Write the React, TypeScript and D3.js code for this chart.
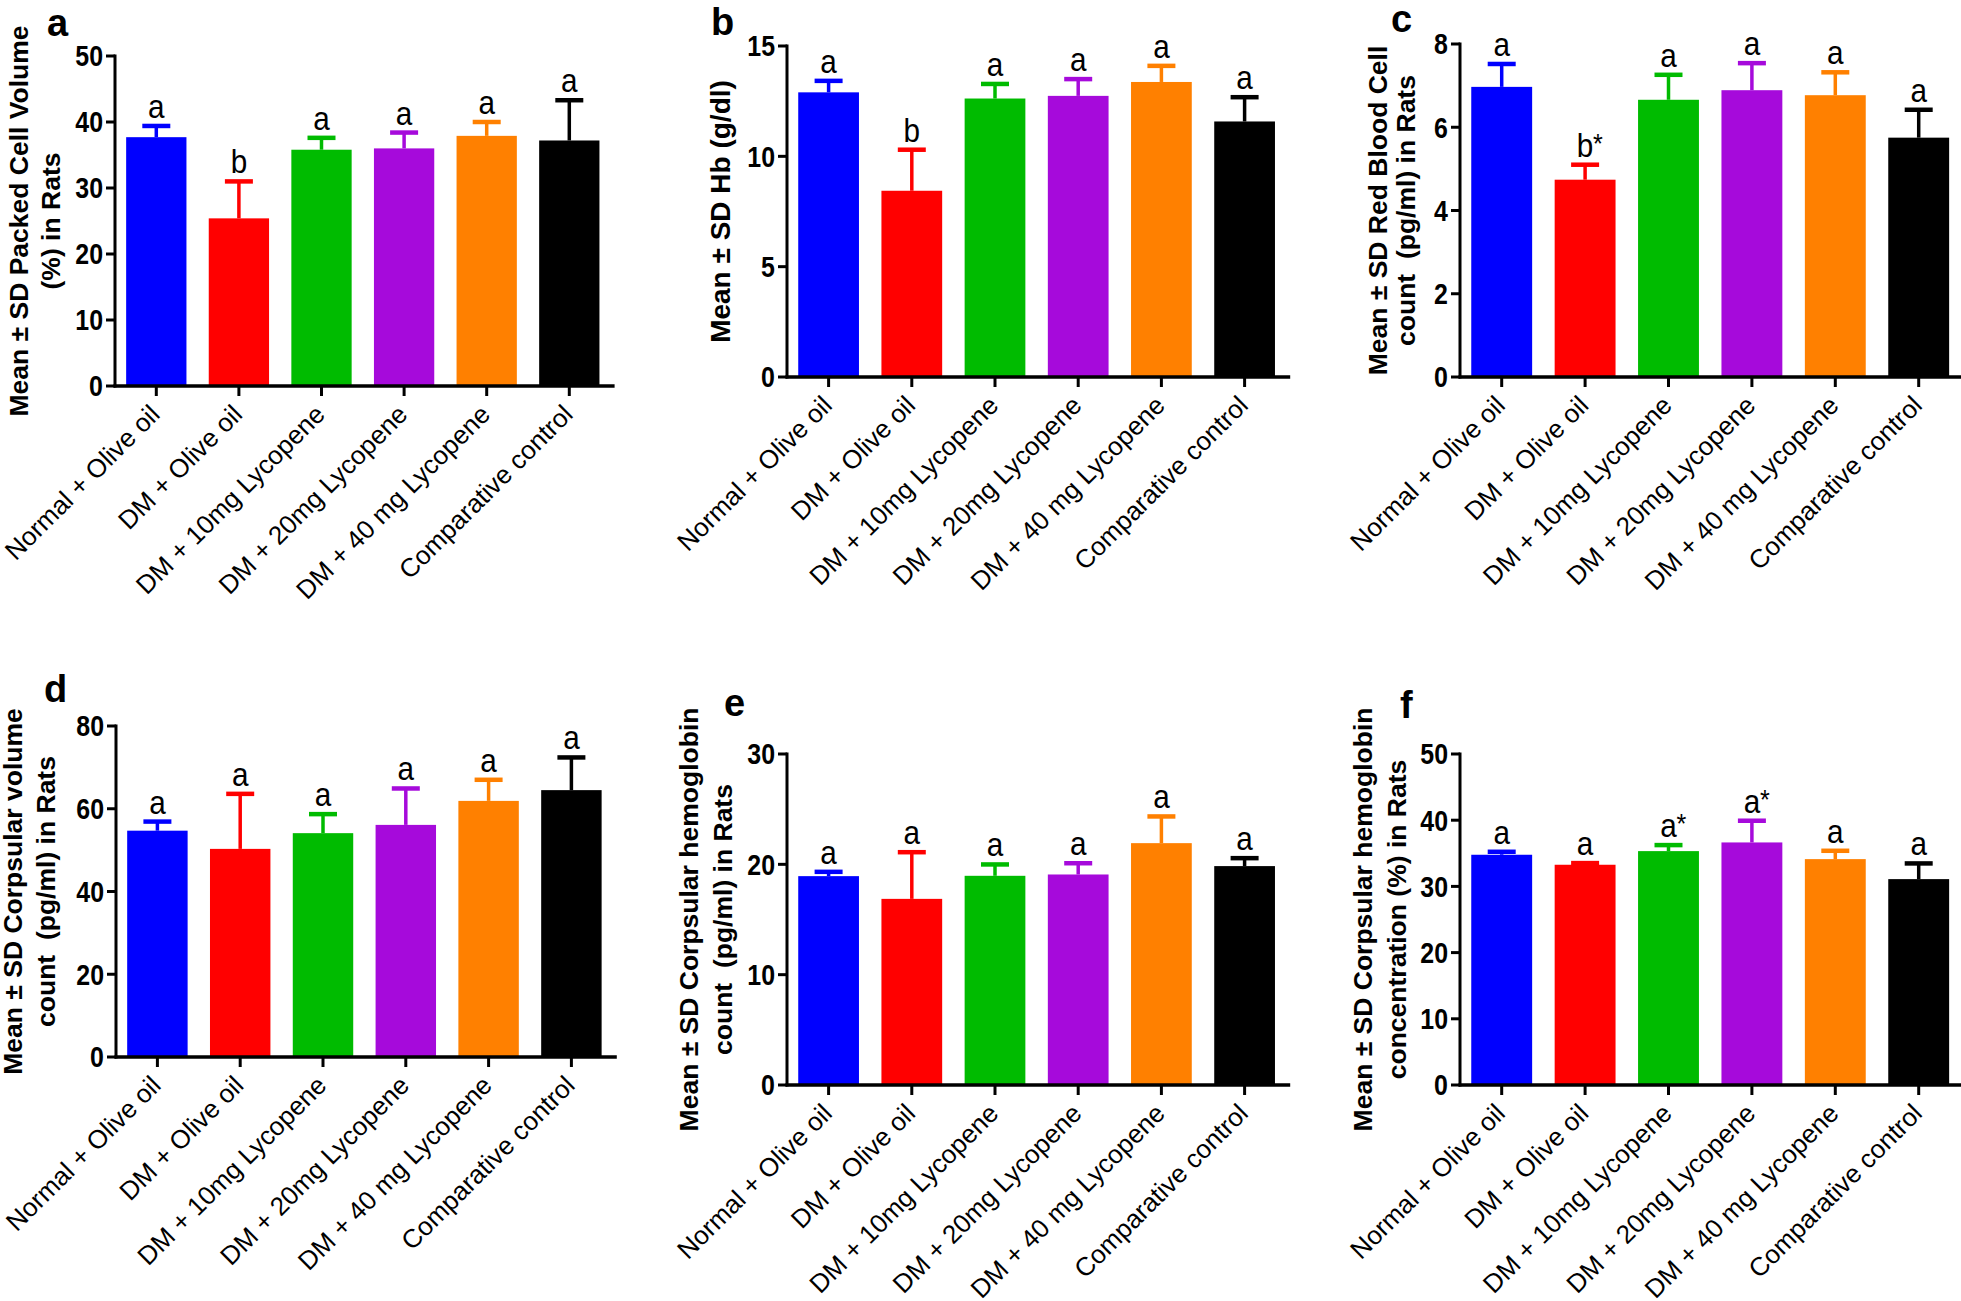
import React from "react";
import * as d3 from "d3";

// ---------- data ----------
const categories = [
  "Normal + Olive oil",
  "DM + Olive oil",
  "DM + 10mg Lycopene",
  "DM + 20mg Lycopene",
  "DM + 40 mg Lycopene",
  "Comparative control",
];

const pcvMean = [37.7, 25.4, 35.8, 36.0, 37.9, 37.2];
const pcvSD = [1.7, 5.6, 1.8, 2.4, 2.1, 6.1];
const pcvLetters = ["a", "b", "a", "a", "a", "a"];
const pcvTicks = [0, 10, 20, 30, 40, 50];

const hbMean = [12.9, 8.44, 12.62, 12.74, 13.37, 11.58];
const hbSD = [0.52, 1.86, 0.66, 0.76, 0.73, 1.1];
const hbLetters = ["a", "b", "a", "a", "a", "a"];
const hbTicks = [0, 5, 10, 15];

const rbcMean = [6.97, 4.74, 6.66, 6.89, 6.77, 5.75];
const rbcSD = [0.55, 0.36, 0.6, 0.65, 0.55, 0.67];
const rbcLetters = ["a", "b*", "a", "a", "a", "a"];
const rbcTicks = [0, 2, 4, 6, 8];

const mcvMean = [54.7, 50.3, 54.1, 56.1, 61.9, 64.5];
const mcvSD = [2.2, 13.3, 4.6, 8.8, 5.1, 7.9];
const mcvLetters = ["a", "a", "a", "a", "a", "a"];
const mcvTicks = [0, 20, 40, 60, 80];

const mchMean = [18.93, 16.87, 18.96, 19.08, 21.92, 19.84];
const mchSD = [0.39, 4.23, 1.03, 1.02, 2.42, 0.72];
const mchLetters = ["a", "a", "a", "a", "a", "a"];
const mchTicks = [0, 10, 20, 30];

const mchcMean = [34.78, 33.27, 35.33, 36.64, 34.12, 31.1];
const mchcSD = [0.45, 0.25, 0.91, 3.28, 1.26, 2.37];
const mchcLetters = ["a", "a", "a*", "a*", "a", "a"];
const mchcTicks = [0, 10, 20, 30, 40, 50];

const pcvTitle = ["Mean ± SD Packed Cell Volume", "(%) in Rats"];
const hbTitle = ["Mean ± SD Hb (g/dl)"];
const rbcTitle = ["Mean ± SD Red Blood Cell", "count  (pg/ml) in Rats"];
const mcvTitle = ["Mean ± SD Corpsular volume", "count  (pg/ml) in Rats"];
const mchTitle = ["Mean ± SD Corpsular hemoglobin", "count  (pg/ml) in Rats"];
const mchcTitle = ["Mean ± SD Corpsular hemoglobin", "concentration (%) in Rats"];

const panelLetters = ["a", "b", "c", "d", "e", "f"];

// ---------- styles / layout ----------
const barColors = ["#0000ff", "#ff0000", "#00bb00", "#a60adb", "#ff8000", "#000000"];
const FONT = "'Liberation Sans', Arial, Helvetica, sans-serif";

type Layout = {
  axisX: number;
  step: number;
  y0: number;
  yTop: number;
  titleX: number[];
  titleSize: number;
  letterX: number;
  letterY: number;
};

const layouts: Layout[] = [
  { axisX: 115, step: 82.6, y0: 386, yTop: 56, titleX: [28, 60], titleSize: 26.5, letterX: 47, letterY: 36 },
  { axisX: 787, step: 83.2, y0: 377, yTop: 46, titleX: [730], titleSize: 28, letterX: 711, letterY: 35 },
  { axisX: 1460, step: 83.4, y0: 377, yTop: 44, titleX: [1387, 1415], titleSize: 26.5, letterX: 1391, letterY: 32 },
  { axisX: 116, step: 82.8, y0: 1057, yTop: 726, titleX: [22, 55], titleSize: 26.5, letterX: 44, letterY: 702 },
  { axisX: 787, step: 83.2, y0: 1085, yTop: 754, titleX: [698, 732], titleSize: 26.5, letterX: 724, letterY: 716 },
  { axisX: 1460, step: 83.4, y0: 1085, yTop: 754, titleX: [1372, 1406], titleSize: 26.5, letterX: 1400, letterY: 718 },
];

const panelData = [
  { mean: pcvMean, sd: pcvSD, letters: pcvLetters, ticks: pcvTicks, title: pcvTitle },
  { mean: hbMean, sd: hbSD, letters: hbLetters, ticks: hbTicks, title: hbTitle },
  { mean: rbcMean, sd: rbcSD, letters: rbcLetters, ticks: rbcTicks, title: rbcTitle },
  { mean: mcvMean, sd: mcvSD, letters: mcvLetters, ticks: mcvTicks, title: mcvTitle },
  { mean: mchMean, sd: mchSD, letters: mchLetters, ticks: mchTicks, title: mchTitle },
  { mean: mchcMean, sd: mchcSD, letters: mchcLetters, ticks: mchcTicks, title: mchcTitle },
];

function Panel({ idx }: { idx: number }) {
  const L = layouts[idx];
  const D = panelData[idx];
  const yMax = D.ticks[D.ticks.length - 1];
  const x = d3
    .scaleBand<string>()
    .domain(categories)
    .range([L.axisX, L.axisX + L.step * categories.length])
    .paddingInner(0.27)
    .paddingOuter(0.135);
  const y = d3.scaleLinear().domain([0, yMax]).range([L.y0, L.yTop]);
  const bw = x.bandwidth();
  const capW = 28;
  const xEnd = L.axisX + L.step * categories.length + 4;
  const cy = (L.y0 + L.yTop) / 2;

  return (
    <g>
      {/* panel letter */}
      <text x={L.letterX} y={L.letterY} fontFamily={FONT} fontWeight="bold" fontSize={38} fill="#000">
        {panelLetters[idx]}
      </text>
      {/* y title */}
      {D.title.map((t, i) => (
        <text
          key={i}
          transform={`translate(${L.titleX[i]},${cy}) rotate(-90)`}
          textAnchor="middle"
          fontFamily={FONT}
          fontWeight="bold"
          fontSize={L.titleSize}
          fill="#000"
          style={{ whiteSpace: "pre" }}
        >
          {t}
        </text>
      ))}
      {/* bars */}
      {categories.map((c, i) => {
        const bx = x(c) as number;
        const v = D.mean[i];
        const top = v + D.sd[i];
        const cx = bx + bw / 2;
        const lab = D.letters[i];
        const base = lab.replace("*", "");
        const star = lab.includes("*");
        const ly = y(top) - 8;
        return (
          <g key={c}>
            <rect x={bx} y={y(v)} width={bw} height={L.y0 - y(v)} fill={barColors[i]} />
            <line x1={cx} x2={cx} y1={y(v)} y2={y(top)} stroke={barColors[i]} strokeWidth={3.5} />
            <line x1={cx - capW / 2} x2={cx + capW / 2} y1={y(top)} y2={y(top)} stroke={barColors[i]} strokeWidth={4.5} />
            <text
              transform={`translate(${cx},${ly}) scale(0.9,1)`}
              textAnchor="middle"
              fontFamily={FONT}
              fontSize={33}
              fill="#000"
            >
              {base}
            </text>
            {star && (
              <text
                transform={`translate(${cx + 8},${ly - 4}) scale(0.9,1)`}
                textAnchor="start"
                fontFamily={FONT}
                fontSize={28}
                fill="#000"
              >
                *
              </text>
            )}
          </g>
        );
      })}
      {/* y axis */}
      <line x1={L.axisX} x2={L.axisX} y1={L.yTop - 1.5} y2={L.y0 + 1.5} stroke="#000" strokeWidth={3} />
      {D.ticks.map((t) => (
        <g key={t}>
          <line x1={L.axisX - 9} x2={L.axisX} y1={y(t)} y2={y(t)} stroke="#000" strokeWidth={3} />
          <text
            transform={`translate(${L.axisX - 12},${y(t)}) scale(0.86,1)`}
            dy="0.36em"
            textAnchor="end"
            fontFamily={FONT}
            fontWeight="bold"
            fontSize={29}
            fill="#000"
          >
            {t}
          </text>
        </g>
      ))}
      {/* x axis */}
      <line x1={L.axisX - 1.5} x2={xEnd} y1={L.y0} y2={L.y0} stroke="#000" strokeWidth={3.5} />
      {categories.map((c) => {
        const cx = (x(c) as number) + bw / 2;
        return (
          <g key={c}>
            <line x1={cx} x2={cx} y1={L.y0} y2={L.y0 + 10} stroke="#000" strokeWidth={3} />
            <text
              transform={`translate(${cx + 5},${L.y0 + 30}) rotate(-45)`}
              textAnchor="end"
              fontFamily={FONT}
              fontSize={26}
              fill="#000"
            >
              {c}
            </text>
          </g>
        );
      })}
    </g>
  );
}

export default function App() {
  return (
    <svg
      width={1961}
      height={1301}
      viewBox="0 0 1961 1301"
      style={{ position: "absolute", left: 0, top: 0, background: "#fff" }}
    >
      <rect x={0} y={0} width={1961} height={1301} fill="#fff" />
      {layouts.map((_, i) => (
        <Panel key={i} idx={i} />
      ))}
    </svg>
  );
}
